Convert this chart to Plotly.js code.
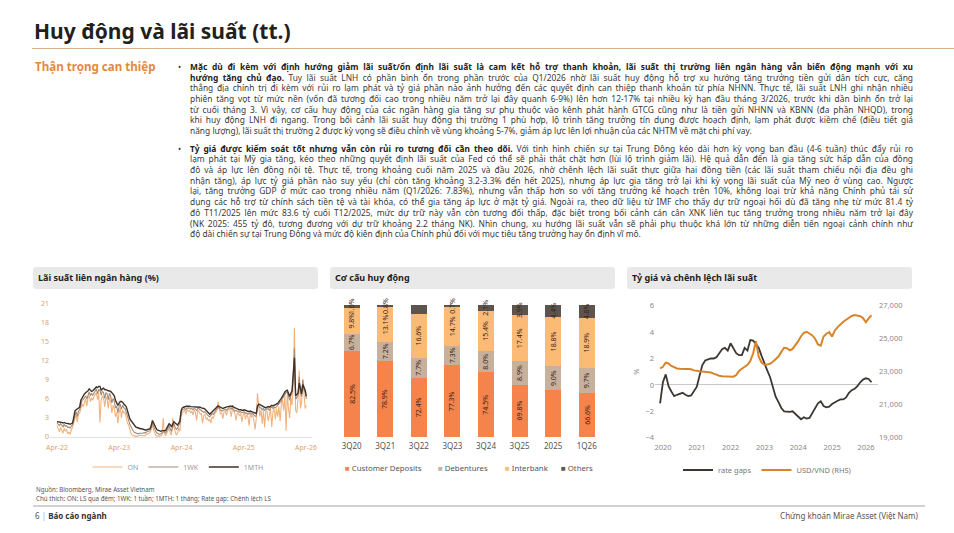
<!DOCTYPE html>
<html><head><meta charset="utf-8">
<script src="https://cdn.plot.ly/plotly-3.0.1.min.js"></script>
<style>
body{margin:0;background:#fff;font-family:"Noto Sans",sans-serif;}
#page{position:relative;width:954px;height:533px;overflow:hidden;background:#fff;}
#chart{position:absolute;left:0;top:0;width:954px;height:533px;}
.abs{position:absolute;white-space:nowrap;}
.title{left:34px;top:20.8px;font-size:21px;line-height:21px;font-weight:700;color:#231f1c;}
.rule{left:32px;top:48px;width:922px;height:1px;background:#d9b48c;}
.side{left:35px;top:60.8px;font-size:11.6px;line-height:11.6px;font-weight:700;color:#e38a3e;}
.para{left:190px;width:723px;font-size:8.4px;line-height:10.7px;color:#3a3a3a;}
.para b{color:#222;}
.ln{display:block;height:10.7px;}
.ln span{display:inline-block;white-space:nowrap;transform-origin:0 50%;}
.bullet{left:178px;font-size:8.4px;line-height:10.7px;color:#333;}
.hdr{top:267px;height:22px;width:285px;background:#e9e9e9;border-radius:3px;font-size:9px;font-weight:700;color:#222;line-height:22px;padding-left:5px;box-sizing:border-box;}
.note{left:36px;font-size:6.2px;line-height:8.44px;color:#555;}
.foot{top:511px;font-size:8px;line-height:10px;color:#555;}
.frule{left:33px;top:505px;width:892px;height:2px;background:#d2d2d2;}
</style></head>
<body><div id="page">
<div id="chart"></div>
<div class="abs title">Huy động và lãi suất (tt.)</div>
<div class="abs rule"></div>
<div class="abs side">Thận trọng can thiệp</div>

<div class="abs bullet" style="top:62px">•</div>
<div class="abs para" style="top:62px">
<div class="ln"><span><b>Mặc dù đi kèm với định hướng giảm lãi suất/ổn định lãi suất là cam kết hỗ trợ thanh khoản, lãi suất thị trường liên ngân hàng vẫn biến động mạnh với xu</b></span></div>
<div class="ln"><span><b>hướng tăng chủ đạo.</b> Tuy lãi suất LNH có phần bình ổn trong phần trước của Q1/2026 nhờ lãi suất huy động hỗ trợ xu hướng tăng trưởng tiền gửi dân tích cực, căng</span></div>
<div class="ln"><span>thẳng địa chính trị đi kèm với rủi ro lạm phát và tỷ giá phần nào ảnh hưởng đến các quyết định can thiệp thanh khoản từ phía NHNN. Thực tế, lãi suất LNH ghi nhận nhiều</span></div>
<div class="ln"><span>phiên tăng vọt từ mức nền (vốn đã tương đối cao trong nhiều năm trở lại đây quanh 6-9%) lên hơn 12-17% tại nhiều kỳ hạn đầu tháng 3/2026, trước khi dần bình ổn trở lại</span></div>
<div class="ln"><span>từ cuối tháng 3. Vì vậy, cơ cấu huy động của các ngân hàng gia tăng sự phụ thuộc vào kênh phát hành GTCG cũng như là tiền gửi NHNN và KBNN (đa phần NHQD), trong</span></div>
<div class="ln"><span>khi huy động LNH đi ngang. Trong bối cảnh lãi suất huy động thị trường 1 phù hợp, lộ trình tăng trưởng tín dụng được hoạch định, lạm phát được kiềm chế (điều tiết giá</span></div>
<div class="ln last"><span>năng lượng), lãi suất thị trường 2 được kỳ vọng sẽ điều chỉnh về vùng khoảng 5-7%, giảm áp lực lên lợi nhuận của các NHTM về mặt chi phí vay.</span></div>
</div>

<div class="abs bullet" style="top:143.7px">•</div>
<div class="abs para" style="top:143.7px">
<div class="ln"><span><b>Tỷ giá được kiểm soát tốt nhưng vẫn còn rủi ro tương đối cần theo dõi.</b> Với tình hình chiến sự tại Trung Đông kéo dài hơn kỳ vọng ban đầu (4-6 tuần) thúc đẩy rủi ro</span></div>
<div class="ln"><span>lạm phát tại Mỹ gia tăng, kéo theo những quyết định lãi suất của Fed có thể sẽ phải thắt chặt hơn (lùi lộ trình giảm lãi). Hệ quả dẫn đến là gia tăng sức hấp dẫn của đồng</span></div>
<div class="ln"><span>đô và áp lực lên đồng nội tệ. Thực tế, trong khoảng cuối năm 2025 và đầu 2026, nhờ chênh lệch lãi suất thực giữa hai đồng tiền (các lãi suất tham chiếu nội địa đều ghi</span></div>
<div class="ln"><span>nhận tăng), áp lực tỷ giá phần nào suy yếu (chỉ còn tăng khoảng 3.2-3.3% đến hết 2025), nhưng áp lực gia tăng trở lại khi kỳ vọng lãi suất của Mỹ neo ở vùng cao. Ngược</span></div>
<div class="ln"><span>lại, tăng trưởng GDP ở mức cao trong nhiều năm (Q1/2026: 7.83%), nhưng vẫn thấp hơn so với tăng trưởng kế hoạch trên 10%, không loại trừ khả năng Chính phủ tái sử</span></div>
<div class="ln"><span>dụng các hỗ trợ từ chính sách tiền tệ và tài khóa, có thể gia tăng áp lực ở mặt tỷ giá. Ngoài ra, theo dữ liệu từ IMF cho thấy dự trữ ngoại hối dù đã tăng nhẹ từ mức 81.4 tỷ</span></div>
<div class="ln"><span>đô T11/2025 lên mức 83.6 tỷ cuối T12/2025, mức dự trữ này vẫn còn tương đối thấp, đặc biệt trong bối cảnh cán cân XNK liên tục tăng trưởng trong nhiều năm trở lại đây</span></div>
<div class="ln"><span>(NK 2025: 455 tỷ đô, tương đương với dự trữ khoảng 2.2 tháng NK). Nhìn chung, xu hướng lãi suất vẫn sẽ phải phụ thuộc khá lớn từ những diễn tiến ngoại cảnh chính như</span></div>
<div class="ln last"><span>độ dài chiến sự tại Trung Đông và mức độ kiên định của Chính phủ đối với mục tiêu tăng trưởng hay ổn định vĩ mô.</span></div>
</div>

<div class="abs hdr" style="left:33px">Lãi suất liên ngân hàng (%)</div>
<div class="abs hdr" style="left:330px">Cơ cấu huy động</div>
<div class="abs hdr" style="left:627px">Tỷ giá và chênh lệch lãi suất</div>

<div class="abs note" style="top:486.3px">Nguồn: Bloomberg, Mirae Asset Vietnam</div>
<div class="abs note" style="top:494.8px">Chú thích: ON: LS qua đêm; 1WK: 1 tuần; 1MTH: 1 tháng; Rate gap: Chênh lệch LS</div>
<div class="abs frule"></div>
<div class="abs foot" style="left:35px">6 <span style="color:#aaa">|</span> <b style="color:#333">Báo cáo ngành</b></div>
<div class="abs foot" style="right:36px">Chứng khoán Mirae Asset (Việt Nam)</div>
</div>

<script>
// ---------- Interbank rates (weekly, from 2022-04-01) ----------
const weekStart = '2022-04-01';
const onRate = [1.8,1.2,0.8,1.5,1.0,0.6,1.4,0.9,1.2,0.5,0.8,0.4,1.1,
1.5,2.2,3.0,3.5,2.4,3.6,3.8,4.5,5.2,4.8,5.5,6.0,4.9,6.2,
6.5,5.6,6.2,5.8,6.4,6.8,7.0,5.9,6.9,2.3,5.8,6.5,6.2,4.8,6.3,
6.0,4.5,6.2,5.6,3.8,5.0,4.6,3.2,3.9,2.2,3.8,4.6,3.0,4.3,3.8,
3.9,3.1,2.2,1.9,1.0,0.6,0.3,0.2,0.2,0.1,0.1,0.2,0.2,0.3,0.2,0.2,
0.3,0.2,0.4,0.5,0.6,0.7,1.2,2.0,1.0,0.5,0.2,
0.1,0.2,0.1,0.2,0.3,3.0,0.6,0.2,0.5,1.0,1.5,0.6,0.3,3.0,
1.5,0.8,0.3,0.6,1.4,0.9,3.2,3.9,4.0,4.2,3.6,4.3,4.1,
4.2,3.8,4.1,3.5,4.2,3.9,2.6,4.2,4.1,3.6,3.7,2.2,3.4,3.6,2.8,3.0,2.5,
2.8,2.2,3.2,2.9,3.7,3.9,4.1,5.6,4.2,3.6,3.8,2.9,4.0,
4.1,3.4,4.2,4.4,4.3,3.2,4.4,4.1,3.8,2.6,3.7,3.8,3.3,3.7,2.4,
3.5,3.8,2.8,3.5,3.2,1.8,3.6,3.2,3.4,2.6,1.2,2.9,6.9,
4.8,3.2,4.3,2.1,4.2,1.5,4.0,4.1,2.5,3.8,4.4,1.6,4.0,4.5,2.8,
4.5,3.2,4.8,2.5,5.2,5.8,4.2,6.5,1.0,6.8,4.5,3.0,6.2,5.0,8.5,17.2,
4.2,3.8,6.0,10.5,4.5,5.5,9.2,6.0,4.5,5.0];
const wkRate = [2.2,2.0,1.8,2.1,1.9,1.6,2.0,1.7,1.8,1.5,1.6,1.4,1.7,
1.9,2.7,3.6,4.0,3.2,4.1,4.3,5.2,5.8,5.9,6.3,6.5,6.0,6.8,
7.1,6.5,6.9,6.6,7.0,7.3,7.6,6.8,7.5,7.4,6.6,7.2,7.0,6.1,7.0,
6.8,5.9,6.9,6.5,5.4,6.1,5.7,4.6,4.9,3.8,4.8,5.2,4.4,5.0,4.6,
4.5,4.0,3.2,2.8,2.0,1.6,1.2,0.9,0.7,0.6,0.5,0.5,0.6,0.6,0.5,0.6,
0.7,0.6,0.8,0.9,1.0,1.0,1.5,2.3,1.6,1.1,0.8,
0.6,0.5,0.4,0.5,0.6,0.7,0.9,0.6,1.0,1.5,1.8,1.2,0.9,1.6,
2.1,1.5,1.2,1.4,1.9,2.2,3.8,4.3,4.4,4.5,4.3,4.6,4.5,
4.6,4.4,4.5,4.3,4.5,4.4,4.2,4.5,4.5,4.3,4.2,4.1,3.9,4.0,3.7,3.5,3.3,
3.2,3.4,3.7,3.6,4.0,4.2,4.4,4.7,4.5,4.3,4.1,4.2,4.3,
4.4,4.2,4.5,4.6,4.6,4.4,4.6,4.4,4.1,4.2,4.0,4.1,3.9,4.0,3.8,
3.9,4.0,3.7,3.8,3.6,3.7,3.8,3.6,3.7,3.5,3.3,3.3,4.6,
5.0,4.6,4.6,4.3,4.5,4.2,4.3,4.4,4.5,4.2,4.6,4.7,4.5,4.7,4.6,
4.8,5.0,5.2,5.5,5.7,6.1,6.4,6.8,7.0,7.1,6.2,5.8,6.5,7.0,9.5,14.0,
6.0,6.2,6.6,9.5,7.0,6.4,9.0,7.5,7.0,6.0];
const mthRate = [2.4,2.4,2.3,2.4,2.3,2.2,2.3,2.2,2.2,2.1,2.1,2.0,2.1,
2.2,3.0,4.1,4.3,4.4,4.5,4.7,5.8,6.2,6.6,6.8,7.0,7.1,7.3,
7.6,7.4,7.2,7.3,7.5,7.8,7.9,7.8,8.0,8.0,7.4,7.6,7.7,7.5,7.5,
7.4,7.3,7.3,7.2,7.0,6.8,6.5,5.8,5.4,5.0,5.3,5.6,5.6,5.5,5.2,
5.0,4.8,4.2,3.5,2.9,2.6,2.3,2.1,1.8,1.6,1.5,1.4,1.4,1.3,1.3,1.2,
1.2,1.1,1.1,1.2,1.3,1.3,1.8,2.6,2.2,1.7,1.4,
1.1,1.0,0.9,0.9,1.0,1.0,1.1,1.0,1.4,1.8,2.1,1.9,1.6,2.0,
2.4,2.2,2.0,1.9,2.2,2.5,4.1,4.6,4.7,4.8,4.8,4.9,4.8,
4.9,4.8,4.8,4.7,4.8,4.8,4.7,4.8,4.8,4.7,4.6,4.6,4.5,4.4,4.2,4.0,3.8,
3.6,3.8,4.0,4.1,4.3,4.5,4.7,4.9,4.8,4.7,4.6,4.5,4.6,
4.7,4.7,4.8,4.8,4.9,4.8,4.9,4.7,4.6,4.5,4.5,4.4,4.3,4.3,4.2,
4.2,4.3,4.2,4.1,4.1,4.0,4.1,4.0,4.0,3.9,3.8,3.7,4.9,
5.2,5.1,5.0,4.9,4.8,4.7,4.6,4.7,4.8,4.7,4.9,5.0,4.9,5.0,5.0,
5.1,5.3,5.6,5.8,6.1,6.4,6.8,7.1,7.3,7.4,6.9,6.4,6.9,7.3,10.0,12.5,
6.5,6.7,6.9,8.5,7.5,6.8,8.3,7.9,7.4,6.4];

// ---------- Funding structure (%) ----------
const fundCats = ['3Q20','3Q21','3Q22','3Q23','3Q24','3Q25','2025','1Q26'];
const fundSeries = ['Customer Deposits','Debentures','Interbank','Others'];
const custDeposits = [82.5,78.9,72.4,77.3,74.5,69.8,67.8,66.6];
const debentures = [6.7,7.2,7.7,7.3,8.0,8.9,9.0,9.7];
const interbank = [9.8,13.1,16.6,14.7,15.4,17.4,18.8,18.9];
const othersFund = [1.0,0.8,3.3,0.7,2.1,3.9,4.4,4.8];

// ---------- FX & rate gap (monthly, from 2019-12) ----------
const monthStart = '2019-12-01';
const rateGaps = [-1.4,0.2,0.8,-0.1,-0.5,-0.85,-0.75,-0.7,-0.6,-0.75,-0.85,-0.8,-0.45,
-0.15,0.7,1.5,1.85,1.95,2.0,2.0,2.1,2.4,2.7,2.8,2.6,
3.15,2.8,2.4,2.25,2.25,2.8,2.6,3.4,3.35,3.1,2.8,2.2,
1.6,1.1,0.6,-0.1,-0.9,-1.3,-1.75,-2.0,-2.05,-2.05,-2.0,-2.2,
-2.45,-2.6,-2.45,-2.55,-2.5,-2.15,-1.7,-1.4,-1.25,-1.6,-1.7,-1.65,
-1.45,-1.3,-1.2,-1.1,-1.1,-0.95,-0.6,-0.4,-0.3,-0.1,0.2,0.4,
0.5,0.45,0.2];
const usdVnd = [23200,23300,23550,23500,23350,23250,23200,23180,23150,23160,23170,23150,23080,
23040,23030,23010,22990,22970,22950,22880,22800,22760,22730,22720,22740,
22720,22700,22800,23050,23180,23280,23420,23650,24100,24850,23900,23550,
23420,23430,23480,23600,23780,23920,24200,24450,24420,24300,24380,24600,
24850,25150,25350,25420,25330,25200,25000,24650,24580,25130,25300,25400,
25130,25500,25700,25880,26030,26150,26280,26380,26430,26400,26360,26250,
26000,26230,26420];

const WEEK = 7*24*3600*1000;
const MONTH = 30.4375*24*3600*1000;
const W = 954, H = 533;
const px = v => v / W;
const py = v => 1 - v / H;
const fundAxisMin = 50;
const fundColors = ['#f4834c','#c7b19c','#fbbb76','#5d544d'];
const fundLegendX = [343, 436, 503, 559];

const tanTick = {size:7, color:'#d9a470', family:'Noto Sans'};
const greyTick = {size:7.5, color:'#8a8a8a', family:'Noto Sans'};
const barText = {size:7, color:'#3a2418', family:'Noto Sans'};

const traces = [
  {type:'scatter', mode:'lines', name:'ON', x0:weekStart, dx:WEEK, y:onRate,
   line:{color:'#f2b27e', width:1.1}, xaxis:'x', yaxis:'y', legend:'legend'},
  {type:'scatter', mode:'lines', name:'1WK', x0:weekStart, dx:WEEK, y:wkRate,
   line:{color:'#a58b75', width:1.1}, xaxis:'x', yaxis:'y', legend:'legend'},
  {type:'scatter', mode:'lines', name:'1MTH', x0:weekStart, dx:WEEK, y:mthRate,
   line:{color:'#3f3128', width:1.4}, xaxis:'x', yaxis:'y', legend:'legend'}
];
[custDeposits, debentures, interbank, othersFund].forEach((vals, k) => {
  traces.push({type:'bar', name:fundSeries[k], x:fundCats, y:vals, xaxis:'x2', yaxis:'y2',
    marker:{color:fundColors[k]}, showlegend:false,
    texttemplate:'%{y:.1f}%', textposition: k === 0 ? 'none' : 'inside',
    insidetextanchor:'middle', textangle:-90, cliponaxis:false,
    textfont: barText});
});
traces.push(
  {type:'scatter', mode:'lines', name:'rate gaps', x0:monthStart, dx:MONTH, y:rateGaps,
   line:{color:'#3d3732', width:1.8}, xaxis:'x3', yaxis:'y3', legend:'legend3'},
  {type:'scatter', mode:'lines', name:'USD/VND (RHS)', x0:monthStart, dx:MONTH, y:usdVnd,
   line:{color:'#d9832a', width:2}, xaxis:'x3', yaxis:'y4', legend:'legend3'}
);

// deposit labels centred on the visible part of each (truncated) bar
const annotations = custDeposits.map((v,i) => ({
  xref:'x2', yref:'y2', x:fundCats[i], y:(fundAxisMin + v)/2,
  text: v.toFixed(1) + '%', textangle:-90, showarrow:false, font:barText
}));
// compact legend for the funding chart
fundSeries.forEach((name, k) => {
  annotations.push({xref:'paper', yref:'paper', x:px(fundLegendX[k]), y:py(468),
    xanchor:'left', yanchor:'middle', showarrow:false,
    text:'<span style="color:' + fundColors[k] + '">■</span> ' + name,
    font:{size:7.8, color:'#555', family:'Noto Sans'}});
});

const legendBase = {orientation:'h', xanchor:'center', yanchor:'middle', traceorder:'normal',
  bgcolor:'rgba(0,0,0,0)', itemwidth:30, tracegroupgap:0};

const layout = {
  width:W, height:H, margin:{l:0,r:0,t:0,b:0},
  paper_bgcolor:'rgba(0,0,0,0)', plot_bgcolor:'rgba(0,0,0,0)',
  font:{family:'Noto Sans', color:'#555'},
  showlegend:true, barmode:'stack', bargap:0.52,
  uniformtext:{mode:'show', minsize:7},
  xaxis:{domain:[px(50),px(312)], type:'date', range:['2022-02-19','2026-05-06'],
    tick0:'2022-04-01', dtick:'M12', tickformat:'%b-%y', tickfont:tanTick,
    showgrid:false, zeroline:false, showline:true, linecolor:'#e6e1dc', linewidth:1,
    ticks:'', ticklabelstandoff:4, anchor:'y'},
  yaxis:{domain:[py(437),py(304)], range:[0,21], tick0:0, dtick:3, tickfont:tanTick,
    showgrid:false, zeroline:false, ticks:'', anchor:'x'},
  xaxis2:{domain:[px(334.9),px(603.5)], type:'category', range:[-0.5,7.5],
    tickfont:{size:8, color:'#555', family:'Noto Sans'}, showgrid:false, zeroline:false,
    showline:false, ticks:'', ticklabelstandoff:3, anchor:'y2'},
  yaxis2:{domain:[py(437),py(305)], range:[fundAxisMin,100], visible:false, anchor:'x2'},
  xaxis3:{domain:[px(655),px(878)], type:'date', range:['2019-10-07','2026-05-11'],
    tick0:'2020-01-01', dtick:'M12', tickformat:'%Y', tickfont:greyTick,
    showgrid:false, zeroline:false, showline:false, ticks:'', ticklabelstandoff:4, anchor:'y3'},
  yaxis3:{domain:[py(437.7),py(305.7)], range:[-4,6], tick0:0, dtick:2, tickfont:greyTick,
    showgrid:false, zeroline:true, zerolinecolor:'#c9c9c9', zerolinewidth:1, ticks:'',
    title:{text:'%', font:{size:7.5, color:'#8a8a8a'}, standoff:4}, anchor:'x3'},
  yaxis4:{overlaying:'y3', side:'right', range:[19000,27000], tick0:19000, dtick:2000,
    tickformat:',d', tickfont:greyTick, showgrid:false, zeroline:false, ticks:'', anchor:'x3'},
  legend: Object.assign({}, legendBase, {x:px(178), y:py(467), font:{size:7, color:'#9a9a9a'}}),
  legend3: Object.assign({}, legendBase, {x:px(767), y:py(470), font:{size:7.5, color:'#777'}}),
  annotations: annotations
};

Plotly.newPlot('chart', traces, layout, {staticPlot:true, displayModeBar:false});

function fitLines(){
  document.querySelectorAll('.para').forEach(p => {
    const target = p.clientWidth;
    const lines = [...p.querySelectorAll('.ln')];
    const scales = [];
    lines.forEach(ln => {
      const s = ln.querySelector('span');
      s.style.wordSpacing = ''; s.style.transform = '';
      if (ln.classList.contains('last')) return;
      const w = s.getBoundingClientRect().width;
      const n = (s.textContent.match(/ /g) || []).length;
      if (w <= target) { s.style.wordSpacing = ((target - w) / n) + 'px'; scales.push(1); }
      else { const k = target / w; s.style.transform = 'scaleX(' + k + ')'; scales.push(k); }
    });
    const kmin = scales.length ? Math.min(...scales) : 1;
    lines.filter(l => l.classList.contains('last')).forEach(ln => {
      if (kmin < 1) ln.querySelector('span').style.transform = 'scaleX(' + kmin + ')';
    });
  });
}
fitLines();
if (document.fonts && document.fonts.ready) document.fonts.ready.then(fitLines);
</script>
</body></html>
